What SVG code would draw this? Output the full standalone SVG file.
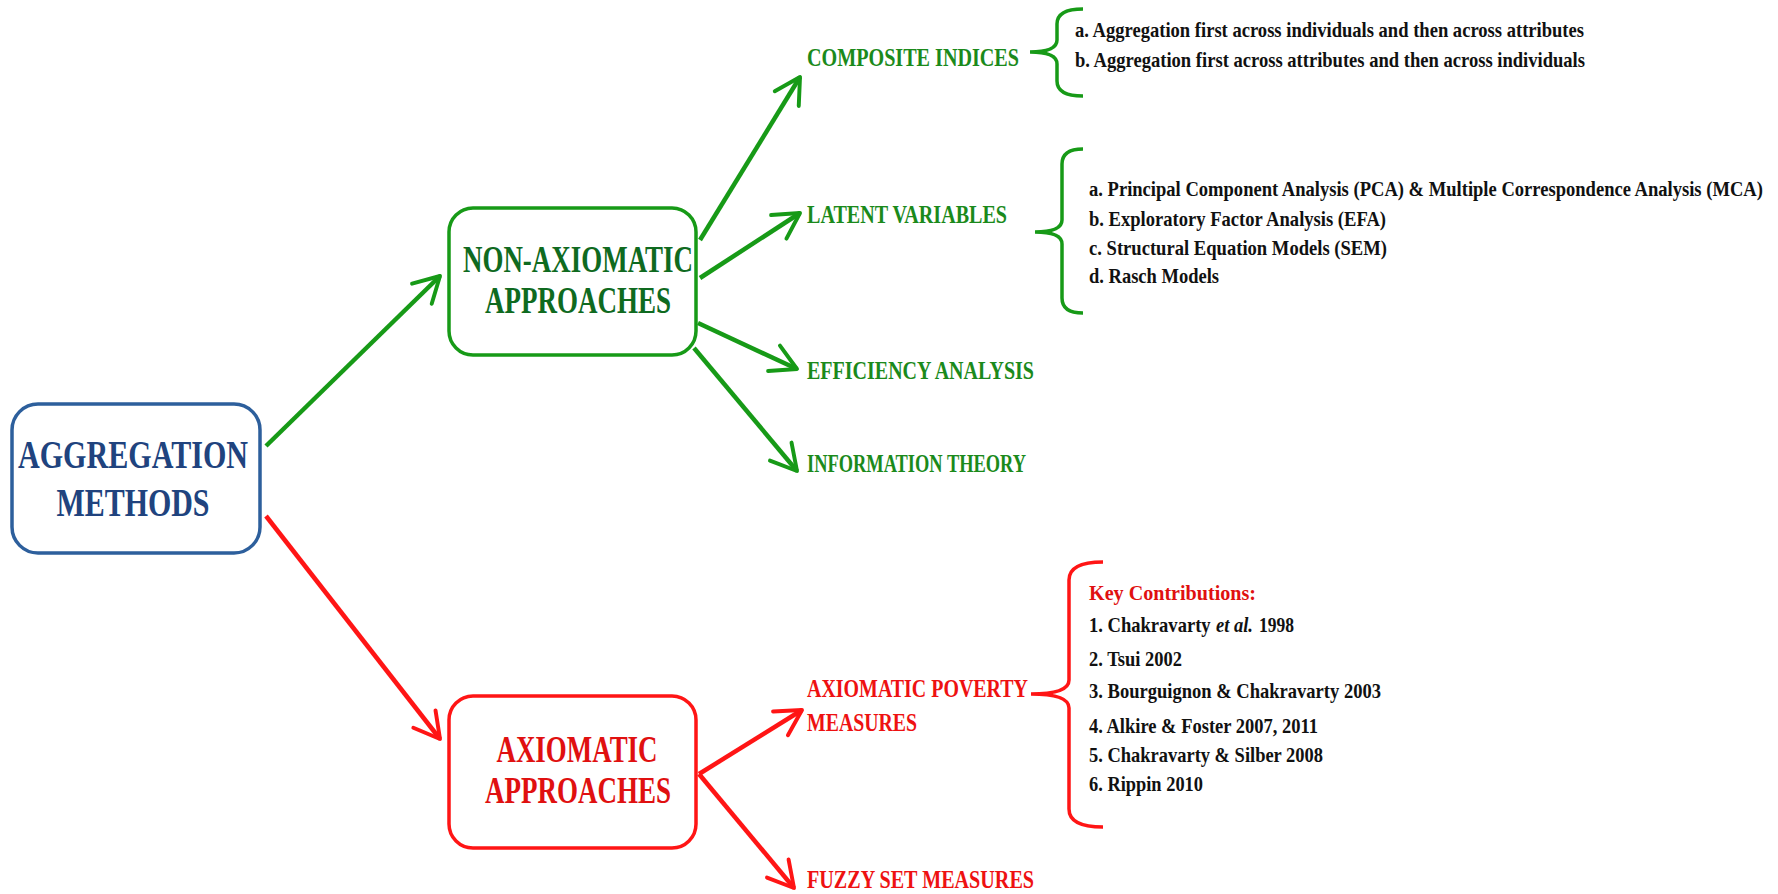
<svg xmlns="http://www.w3.org/2000/svg" width="1778" height="894" viewBox="0 0 1778 894">
<style>
text{font-family:"Liberation Serif","Times New Roman",serif;font-weight:bold}
.box{fill:#fff;stroke-width:3.5}
.bt{font-size:41px;text-anchor:middle}
.bs{font-size:37px;text-anchor:middle}
.lbl{font-size:25px}
.g{fill:#1b8a1b}
.r{fill:#ee1111}
.item{font-size:22px;fill:#111}
.cg{stroke:#179a17;stroke-width:4.5;fill:none}
.cr{stroke:#ff1515;stroke-width:4.5;fill:none}
.brg{stroke:#179a17;stroke-width:3.5;fill:none}
.brr{stroke:#ff1515;stroke-width:3.5;fill:none}
</style>
<defs>
<marker id="ag" viewBox="0 0 12 12" refX="10" refY="6" markerWidth="7.5" markerHeight="7.5" orient="auto" markerUnits="strokeWidth">
<path d="M1,1 L10,6 L1,11" fill="none" stroke="#179a17" stroke-width="1.4" stroke-linecap="round" stroke-linejoin="round"/>
</marker>
<marker id="ar" viewBox="0 0 12 12" refX="10" refY="6" markerWidth="7.5" markerHeight="7.5" orient="auto" markerUnits="strokeWidth">
<path d="M1,1 L10,6 L1,11" fill="none" stroke="#ff1515" stroke-width="1.4" stroke-linecap="round" stroke-linejoin="round"/>
</marker>
</defs>
<rect width="1778" height="894" fill="#fff"/>
<g id="connectors">
<line class="cg" x1="266" y1="446" x2="440" y2="276" marker-end="url(#ag)"/>
<line class="cr" x1="266" y1="516" x2="440" y2="739" marker-end="url(#ar)"/>
<line class="cg" x1="700" y1="240" x2="800" y2="77" marker-end="url(#ag)"/>
<line class="cg" x1="700" y1="278" x2="800" y2="213" marker-end="url(#ag)"/>
<line class="cg" x1="698" y1="323" x2="797" y2="369" marker-end="url(#ag)"/>
<line class="cg" x1="694" y1="348" x2="797" y2="471" marker-end="url(#ag)"/>
<line class="cr" x1="699" y1="774" x2="802" y2="710" marker-end="url(#ar)"/>
<line class="cr" x1="699" y1="774" x2="794" y2="888" marker-end="url(#ar)"/>
</g>
<g id="aggregation-methods">
<rect class="box" x="12" y="404" width="248" height="149" rx="26" stroke="#2d5f9c"/>
<text class="bt" x="133" y="468" fill="#20437e" textLength="230" lengthAdjust="spacingAndGlyphs">AGGREGATION</text>
<text class="bt" x="133" y="516" fill="#20437e" textLength="153" lengthAdjust="spacingAndGlyphs">METHODS</text>
</g>
<g id="non-axiomatic">
<rect class="box" x="449" y="208" width="247" height="147" rx="24" stroke="#179a17"/>
<text class="bs" x="578" y="272" fill="#0f6a1f" textLength="230" lengthAdjust="spacingAndGlyphs">NON-AXIOMATIC</text>
<text class="bs" x="578" y="313" fill="#0f6a1f" textLength="186" lengthAdjust="spacingAndGlyphs">APPROACHES</text>
</g>
<g id="axiomatic">
<rect class="box" x="449" y="696" width="247" height="152" rx="24" stroke="#ff1515"/>
<text class="bs" x="577" y="762" fill="#e01010" textLength="161" lengthAdjust="spacingAndGlyphs">AXIOMATIC</text>
<text class="bs" x="578" y="803" fill="#e01010" textLength="186" lengthAdjust="spacingAndGlyphs">APPROACHES</text>
</g>
<g id="composite-indices">
<text class="lbl g" x="807" y="66" textLength="212" lengthAdjust="spacingAndGlyphs">COMPOSITE INDICES</text>
<path class="brg" d="M1083,9 Q1057,9 1057,24 L1057,40 Q1057,52 1030,52 Q1057,52 1057,64 L1057,81 Q1057,96 1083,96"/>
<text class="item" x="1075" y="37" textLength="509" lengthAdjust="spacingAndGlyphs">a. Aggregation first across individuals and then across attributes</text>
<text class="item" x="1075" y="67" textLength="510" lengthAdjust="spacingAndGlyphs">b. Aggregation first across attributes and then across individuals</text>
</g>
<g id="latent-variables">
<text class="lbl g" x="807" y="223" textLength="200" lengthAdjust="spacingAndGlyphs">LATENT VARIABLES</text>
<path class="brg" d="M1083,149 Q1062,149 1062,164 L1062,220 Q1062,232 1035,232 Q1062,232 1062,244 L1062,298 Q1062,313 1083,313"/>
<text class="item" transform="translate(1089,196) scale(0.78,1)" x="0" y="0" textLength="864" lengthAdjust="spacingAndGlyphs">a. Principal Component Analysis (PCA) &amp; Multiple Correspondence Analysis (MCA)</text>
<text class="item" x="1089" y="226" textLength="297" lengthAdjust="spacingAndGlyphs">b. Exploratory Factor Analysis (EFA)</text>
<text class="item" x="1089" y="255" textLength="298" lengthAdjust="spacingAndGlyphs">c. Structural Equation Models (SEM)</text>
<text class="item" x="1089" y="283" textLength="130" lengthAdjust="spacingAndGlyphs">d. Rasch Models</text>
</g>
<g id="efficiency-analysis">
<text class="lbl g" x="807" y="379" textLength="227" lengthAdjust="spacingAndGlyphs">EFFICIENCY ANALYSIS</text>
</g>
<g id="information-theory">
<text class="lbl g" x="807" y="472" textLength="219" lengthAdjust="spacingAndGlyphs">INFORMATION THEORY</text>
</g>
<g id="axiomatic-poverty-measures">
<text class="lbl r" x="807" y="697" textLength="221" lengthAdjust="spacingAndGlyphs">AXIOMATIC POVERTY</text>
<text class="lbl r" x="807" y="731" textLength="110" lengthAdjust="spacingAndGlyphs">MEASURES</text>
<path class="brr" d="M1103,562 Q1069,562 1069,580 L1069,680 Q1069,694 1031,694 Q1069,694 1069,708 L1069,809 Q1069,827 1103,827"/>
<text class="item" x="1089" y="600" style="fill:#e01010" textLength="167" lengthAdjust="spacingAndGlyphs">Key Contributions:</text>
<text class="item" transform="translate(1089,632) scale(0.8,1)" x="0" y="0" textLength="152" lengthAdjust="spacingAndGlyphs">1. Chakravarty</text>
<text class="item" x="1216" y="632" font-style="italic" textLength="37" lengthAdjust="spacingAndGlyphs">et al.</text>
<text class="item" x="1259" y="632" textLength="35" lengthAdjust="spacingAndGlyphs">1998</text>
<text class="item" x="1089" y="666" textLength="93" lengthAdjust="spacingAndGlyphs">2. Tsui 2002</text>
<text class="item" x="1089" y="698" textLength="292" lengthAdjust="spacingAndGlyphs">3. Bourguignon &amp; Chakravarty 2003</text>
<text class="item" x="1089" y="733" textLength="229" lengthAdjust="spacingAndGlyphs">4. Alkire &amp; Foster 2007, 2011</text>
<text class="item" x="1089" y="762" textLength="234" lengthAdjust="spacingAndGlyphs">5. Chakravarty &amp; Silber 2008</text>
<text class="item" x="1089" y="791" textLength="114" lengthAdjust="spacingAndGlyphs">6. Rippin 2010</text>
</g>
<g id="fuzzy-set-measures">
<text class="lbl r" x="807" y="888" textLength="227" lengthAdjust="spacingAndGlyphs">FUZZY SET MEASURES</text>
</g>
</svg>
